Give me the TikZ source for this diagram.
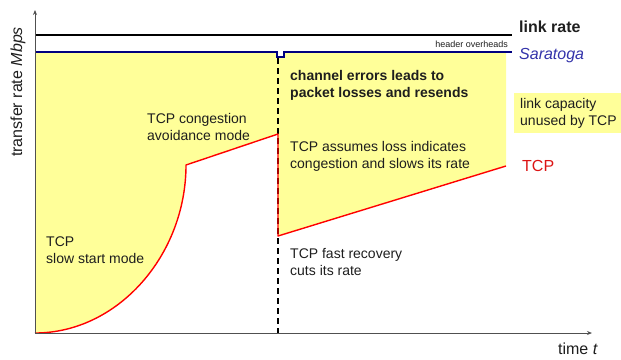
\documentclass[tikz,border=0pt]{standalone}
\usepackage{fontspec}
\setmainfont{Liberation Sans}
\usetikzlibrary{arrows.meta}
\definecolor{fillyellow}{HTML}{FFFF99}
\definecolor{navyline}{RGB}{0,0,128}
\definecolor{saratext}{RGB}{51,51,170}
\definecolor{tcpred}{RGB}{255,0,0}
\definecolor{tcptext}{RGB}{220,20,20}
\definecolor{txtcol}{RGB}{30,30,30}
\definecolor{axiscol}{RGB}{80,80,80}
\begin{document}
\begin{tikzpicture}[x=1pt,y=-1pt,
  lbl/.style={inner sep=0pt, anchor=north west, align=left, text=txtcol, font=\fontsize{14}{17}\selectfont},
  biglbl/.style={inner sep=0pt, anchor=north west, align=left, text=txtcol, font=\fontsize{16}{19}\selectfont},
  axisline/.style={draw=axiscol, line width=1pt, -{Stealth[length=5pt,width=4pt]}},
  tcpline/.style={draw=tcpred, line width=1.4pt, line join=round},
  errline/.style={draw=black, line width=1.4pt, dash pattern=on 6pt off 4pt}]
\useasboundingbox (0,0) rectangle (621,359);
% coordinates
\coordinate (O) at (35,333);
\coordinate (ytop) at (35,10);
\coordinate (xend) at (592,333);
\coordinate (ssend) at (186,165);
\coordinate (capeak) at (278,134);
\coordinate (frlow) at (278,236);
\coordinate (tcpend) at (506,166);
\coordinate (errtop) at (278,58);
\coordinate (errbot) at (278,333);
% yellow area (unused capacity)
\fill[fillyellow] (35,52) -- (277,52) -- (277,57) -- (284,57) -- (284,52) -- (506,52) -- (tcpend) -- (frlow) -- (capeak) -- (ssend) .. controls (186,255) and (118,333) .. (O) -- cycle;
\fill[fillyellow] (514,93) rectangle (621,133);
% channel error dashed line
\draw[errline] (errtop) -- (errbot);
% TCP curve
\draw[tcpline] (O) .. controls (118,333) and (186,255) .. (ssend) -- (capeak) -- (frlow) -- (tcpend);
% link rate
\draw[black, line width=1.4pt] (35,35) -- (512,35);
% Saratoga
\draw[navyline, line width=1.4pt, line join=miter] (35,52) -- (277,52) -- (277,57) -- (284,57) -- (284,52) -- (512,52);
% axes
\draw[axisline] (O) -- (ytop);
\draw[axisline] (O) -- (xend);
% labels
\node[biglbl, font=\fontsize{16}{19}\selectfont\bfseries] (linkrate) at (519,21) {link rate};
\node[biglbl, text=saratext, font=\fontsize{16}{19}\selectfont\itshape] (saratoga) at (519,48) {Saratoga};
\node[biglbl, text=tcptext] (tcplbl) at (522,160) {TCP};
\node[inner sep=0pt, anchor=north east, text=txtcol, font=\fontsize{9}{11}\selectfont] (hdr) at (508,41) {header overheads};
\node[lbl, font=\fontsize{14}{17}\selectfont\bfseries] (chanerr) at (290,70) {channel errors leads to\\packet losses and resends};
\node[lbl] (avoid) at (147,113) {TCP congestion\\avoidance mode};
\node[lbl] (assumes) at (290,141) {TCP assumes loss indicates\\congestion and slows its rate};
\node[lbl] (fastrec) at (290,248) {TCP fast recovery\\cuts its rate};
\node[lbl] (slowstart) at (46,237) {TCP\\slow start mode};
\node[lbl] (unused) at (520,98) {link capacity\\unused by TCP};
\node[biglbl, anchor=north east] (time) at (598,343) {time \textit{t}};
\node[inner sep=0pt, rotate=90, text=txtcol, font=\fontsize{16}{19}\selectfont] (ylbl) at (18,92) {transfer rate \textit{Mbps}};
\end{tikzpicture}
\end{document}
